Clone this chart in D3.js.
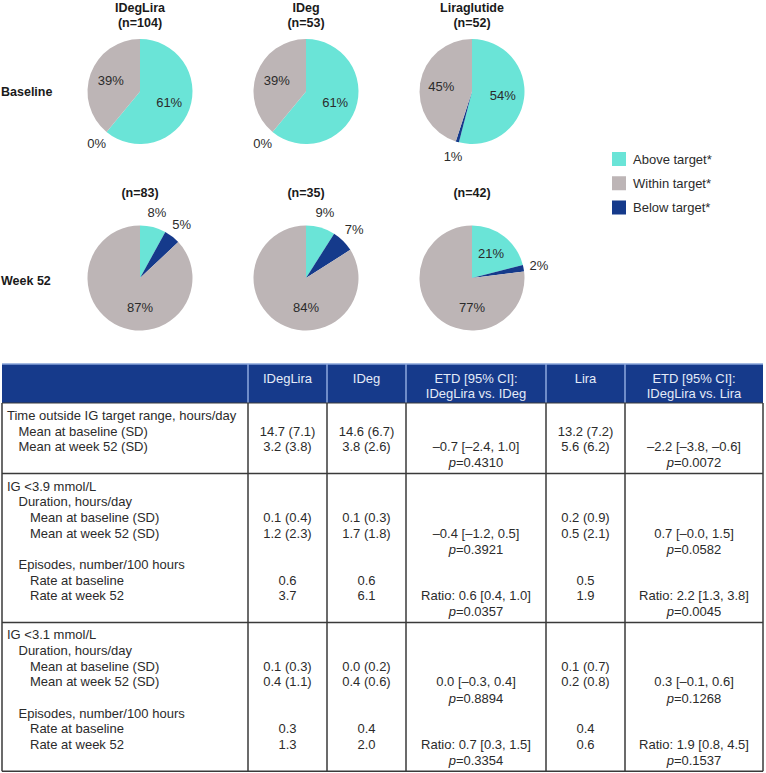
<!DOCTYPE html>
<html><head><meta charset="utf-8">
<script src="https://cdn.jsdelivr.net/npm/d3@7"></script>
<style>
body{margin:0;background:#fff;}
svg{display:block;font-family:"Liberation Sans",Arial,sans-serif;}
</style></head>
<body>
<svg id="chart" width="766" height="773"></svg>
<script>
// ---------- DATA ----------
const treatments = ["IDegLira", "IDeg", "Liraglutide"];
const baselineN = ["(n=104)", "(n=53)", "(n=52)"];
const week52N = ["(n=83)", "(n=35)", "(n=42)"];
const timepoints = ["Baseline", "Week 52"];
const categories = ["Above target*", "Below target*", "Within target*"];
const legendOrder = ["Above target*", "Within target*", "Below target*"];
// values in order: Above, Below, Within
const baselineValues = [[61, 0, 39], [61, 0, 39], [54, 1, 45]];
const week52Values = [[8, 5, 87], [9, 7, 84], [21, 2, 77]];
const colors = ["#6ae4d7", "#153a8b", "#bdb5b6"];

const tableHeaders = [[""], ["IDegLira"], ["IDeg"], ["ETD [95% CI]:", "IDegLira vs. IDeg"], ["Lira"], ["ETD [95% CI]:", "IDegLira vs. Lira"]];

const sec1Labels = ["Time outside IG target range, hours/day", "Mean at baseline (SD)", "Mean at week 52 (SD)", ""];
const sec1Levels = [0, 1, 1, 0];
const sec1IDegLira = ["", "14.7 (7.1)", "3.2 (3.8)", ""];
const sec1IDeg = ["", "14.6 (6.7)", "3.8 (2.6)", ""];
const sec1EtdIDeg = ["", "", "–0.7 [–2.4, 1.0]", "p=0.4310"];
const sec1Lira = ["", "13.2 (7.2)", "5.6 (6.2)", ""];
const sec1EtdLira = ["", "", "–2.2 [–3.8, –0.6]", "p=0.0072"];

const sec2Labels = ["IG <3.9 mmol/L", "Duration, hours/day", "Mean at baseline (SD)", "Mean at week 52 (SD)", "", "Episodes, number/100 hours", "Rate at baseline", "Rate at week 52", ""];
const sec2Levels = [0, 1, 2, 2, 0, 1, 2, 2, 0];
const sec2IDegLira = ["", "", "0.1 (0.4)", "1.2 (2.3)", "", "", "0.6", "3.7", ""];
const sec2IDeg = ["", "", "0.1 (0.3)", "1.7 (1.8)", "", "", "0.6", "6.1", ""];
const sec2EtdIDeg = ["", "", "", "–0.4 [–1.2, 0.5]", "p=0.3921", "", "", "Ratio: 0.6 [0.4, 1.0]", "p=0.0357"];
const sec2Lira = ["", "", "0.2 (0.9)", "0.5 (2.1)", "", "", "0.5", "1.9", ""];
const sec2EtdLira = ["", "", "", "0.7 [–0.0, 1.5]", "p=0.0582", "", "", "Ratio: 2.2 [1.3, 3.8]", "p=0.0045"];

const sec3Labels = ["IG <3.1 mmol/L", "Duration, hours/day", "Mean at baseline (SD)", "Mean at week 52 (SD)", "", "Episodes, number/100 hours", "Rate at baseline", "Rate at week 52", ""];
const sec3Levels = [0, 1, 2, 2, 0, 1, 2, 2, 0];
const sec3IDegLira = ["", "", "0.1 (0.3)", "0.4 (1.1)", "", "", "0.3", "1.3", ""];
const sec3IDeg = ["", "", "0.0 (0.2)", "0.4 (0.6)", "", "", "0.4", "2.0", ""];
const sec3EtdIDeg = ["", "", "", "0.0 [–0.3, 0.4]", "p=0.8894", "", "", "Ratio: 0.7 [0.3, 1.5]", "p=0.3354"];
const sec3Lira = ["", "", "0.1 (0.7)", "0.2 (0.8)", "", "", "0.4", "0.6", ""];
const sec3EtdLira = ["", "", "", "0.3 [–0.1, 0.6]", "p=0.1268", "", "", "Ratio: 1.9 [0.8, 4.5]", "p=0.1537"];

// ---------- DRAW ----------
const svg = d3.select("#chart");
const textColor = "#2b2b2b";

// Pies
const xPie = d3.scalePoint().domain(treatments).range([140, 472]);
const yPie = d3.scalePoint().domain(timepoints).range([91.5, 278]);
const color = d3.scaleOrdinal().domain(categories).range(colors);
const r = 52.5;
const pie = d3.pie().sort(null).value(d => d.v);
const arc = d3.arc().innerRadius(0).outerRadius(r);
const inLabel = d3.arc().innerRadius(31).outerRadius(31);
const bigLabel = d3.arc().innerRadius(29).outerRadius(29);
const outLabel = d3.arc().innerRadius(68).outerRadius(68);

function labelPos(d) {
  if (d.data.v < 12) return outLabel.centroid(d);
  if (d.data.v > 70) {
    // very large slice: label sits in the lower part of the slice
    const mid = Math.PI;
    return bigLabel.centroid({ startAngle: mid - 0.1, endAngle: mid + 0.1 });
  }
  return inLabel.centroid(d);
}
function drawPie(values, t, tp) {
  const g = svg.append("g").attr("transform", `translate(${xPie(t)},${yPie(tp)})`);
  const data = pie(values.map((v, i) => ({ v, c: categories[i] })));
  g.selectAll("path").data(data).join("path")
    .attr("d", arc).attr("fill", d => color(d.data.c));
  g.selectAll("text").data(data).join("text")
    .attr("transform", d => `translate(${labelPos(d)})`)
    .attr("text-anchor", "middle").attr("dominant-baseline", "central")
    .attr("font-size", 13).attr("fill", textColor)
    .text(d => d.data.v + "%");
}
treatments.forEach((t, i) => {
  drawPie(baselineValues[i], t, "Baseline");
  drawPie(week52Values[i], t, "Week 52");
  svg.append("text").attr("x", xPie(t)).attr("y", 12).attr("text-anchor", "middle")
    .attr("font-size", 12.5).attr("font-weight", "bold").attr("fill", "#1a1a1a").text(t);
  svg.append("text").attr("x", xPie(t)).attr("y", 27).attr("text-anchor", "middle")
    .attr("font-size", 12.5).attr("font-weight", "bold").attr("fill", "#1a1a1a").text(baselineN[i]);
  svg.append("text").attr("x", xPie(t)).attr("y", 197).attr("text-anchor", "middle")
    .attr("font-size", 12.5).attr("font-weight", "bold").attr("fill", "#1a1a1a").text(week52N[i]);
});
timepoints.forEach(tp => {
  svg.append("text").attr("x", 1).attr("y", yPie(tp) + (tp === "Baseline" ? 0 : 3))
    .attr("dominant-baseline", "central").attr("font-size", 12.5).attr("font-weight", "bold")
    .attr("fill", "#1a1a1a").text(tp);
});

// Legend
const yLeg = d3.scalePoint().domain(legendOrder).range([159, 207.5]);
const leg = svg.append("g").selectAll("g").data(legendOrder).join("g")
  .attr("transform", d => `translate(612,${yLeg(d)})`);
leg.append("rect").attr("x", 0).attr("y", -7).attr("width", 14).attr("height", 14).attr("fill", d => color(d));
leg.append("text").attr("x", 21).attr("y", 0).attr("dominant-baseline", "central")
  .attr("font-size", 13).attr("fill", textColor).text(d => d);

// Table
const colEdges = [2, 248, 327, 406, 546, 625, 763];
const headTop = 364, headBottom = 403;
const pitch = 15.65;
const sections = [
  { labels: sec1Labels, levels: sec1Levels, cols: [sec1IDegLira, sec1IDeg, sec1EtdIDeg, sec1Lira, sec1EtdLira] },
  { labels: sec2Labels, levels: sec2Levels, cols: [sec2IDegLira, sec2IDeg, sec2EtdIDeg, sec2Lira, sec2EtdLira] },
  { labels: sec3Labels, levels: sec3Levels, cols: [sec3IDegLira, sec3IDeg, sec3EtdIDeg, sec3Lira, sec3EtdLira] }
];
let yCursor = headBottom;
sections.forEach(s => {
  s.top = yCursor;
  s.height = s.labels.length * pitch + 8;
  yCursor += s.height;
});
const tableBottom = yCursor;

// header
svg.append("rect").attr("x", colEdges[0]).attr("y", headTop)
  .attr("width", colEdges[6] - colEdges[0]).attr("height", headBottom - headTop).attr("fill", "#163a8b");
svg.append("line").attr("x1", colEdges[0]).attr("x2", colEdges[6]).attr("y1", headTop).attr("y2", headTop)
  .attr("stroke", "#88a4da").attr("stroke-width", 1.5);
colEdges.slice(1, 6).forEach(x => {
  svg.append("line").attr("x1", x).attr("x2", x).attr("y1", headTop).attr("y2", headBottom)
    .attr("stroke", "#8ea9de").attr("stroke-width", 1.5);
});
tableHeaders.forEach((h, i) => {
  const cx = (colEdges[i] + colEdges[i + 1]) / 2;
  h.forEach((line, k) => {
    svg.append("text").attr("x", cx).attr("y", 378 + k * 15.5).attr("text-anchor", "middle")
      .attr("dominant-baseline", "central").attr("font-size", 13).attr("fill", "#e4ebf8").text(line);
  });
});

// body
function addCellText(sel, str) {
  if (str.startsWith("p=")) {
    sel.append("tspan").attr("font-style", "italic").text("p");
    sel.append("tspan").text(str.slice(1));
  } else sel.text(str);
}
sections.forEach(s => {
  s.labels.forEach((lab, k) => {
    const y = s.top + 12.5 + k * pitch;
    if (lab) svg.append("text").attr("x", 7 + s.levels[k] * 11.5).attr("y", y)
      .attr("dominant-baseline", "central").attr("font-size", 13).attr("fill", textColor).text(lab);
    s.cols.forEach((col, c) => {
      if (!col[k]) return;
      const cx = (colEdges[c + 1] + colEdges[c + 2]) / 2;
      const t = svg.append("text").attr("x", cx).attr("y", y).attr("text-anchor", "middle")
        .attr("dominant-baseline", "central").attr("font-size", 13).attr("fill", textColor);
      addCellText(t, col[k]);
    });
  });
  svg.append("line").attr("x1", colEdges[0]).attr("x2", colEdges[6])
    .attr("y1", s.top + s.height).attr("y2", s.top + s.height)
    .attr("stroke", "#3a3a3a").attr("stroke-width", 1.5);
});
[colEdges[0], ...colEdges.slice(1, 6), colEdges[6]].forEach(x => {
  svg.append("line").attr("x1", x).attr("x2", x).attr("y1", headBottom).attr("y2", tableBottom)
    .attr("stroke", "#3a3a3a").attr("stroke-width", 1.5);
});
svg.append("line").attr("x1", colEdges[0]).attr("x2", colEdges[6]).attr("y1", headBottom).attr("y2", headBottom)
  .attr("stroke", "#3a3a3a").attr("stroke-width", 1);
</script>
</body></html>
